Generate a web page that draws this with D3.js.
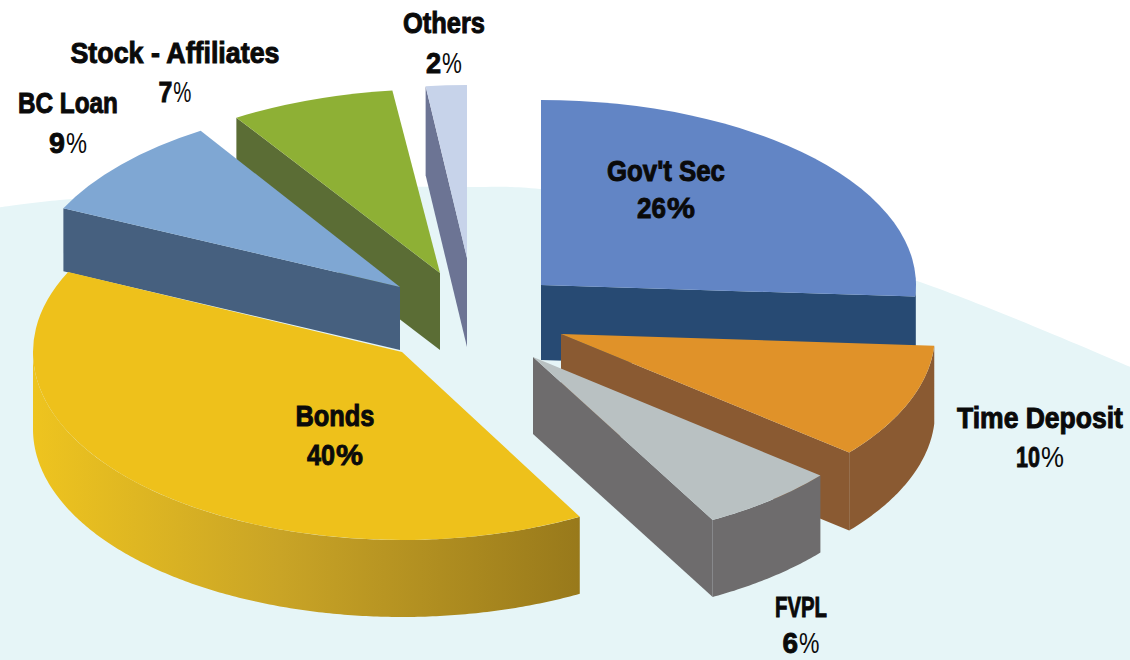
<!DOCTYPE html>
<html>
<head>
<meta charset="utf-8">
<script src="https://cdn.jsdelivr.net/npm/d3@7"></script>
<style>
  html, body { margin: 0; padding: 0; background: #fff; }
  svg { display: block; }
  text { font-family: "Liberation Sans Narrow", "Liberation Sans", "DejaVu Sans Condensed", sans-serif; fill: #0a0a0a; }
</style>
</head>
<body>
<svg id="chart" width="1130" height="660"></svg>
<script>
// Portfolio mix, clockwise from twelve o'clock
const categories = ["Gov't Sec", "Time Deposit", "FVPL", "Bonds", "BC Loan", "Stock - Affiliates", "Others"];
const shares = [26, 10, 6, 40, 9, 7, 2];

// Top, side-wall colours for each wedge
const topColors = ["#6285c5", "#e09229", "#b9c1c2", "#eec11b", "#7fa7d3", "#8eb035", "#c7d3ea"];
const wallColors = ["#274a73", "#8a5a32", "#6e6c6d", "url(#bondsWall)", "#46607f", "#5b6d35", "#6c7494"];

// Exploded wedge placement: apex, ellipse radii, wall height
const apexX = [541, 561, 533, 402, 400, 440, 467];
const apexY = [285, 334, 357, 352, 287, 273, 258];
const radiusX = [375, 374, 373, 369, 372, 380, 330];
const radiusY = [185, 186, 186, 188, 185, 184, 173];
const wallDepth = [75, 78, 77, 77, 63, 77, 89];

// Back-to-front painting sequence
const paintOrder = [5, 6, 4, 0, 1, 2, 3];

// Label placement: centre x, baseline of name and of percentage, fitted widths
const labelX = [666, 1040, 801, 335, 68, 175, 444];
const nameY = [181, 428, 617, 426, 113, 63, 33];
const valueY = [218, 467, 653, 465, 153, 102, 73];
const nameWidth = [118, 166, 52, 79, 100, 209, 82];
const valueWidth = [58, 48, 37, 56, 38, 33, 36];
const lightPercent = [false, true, true, false, true, true, true];

// Pale backdrop outline, running across the top of the page
const backdropX = [-5, 60, 250, 470, 540, 720, 917, 1135];
const backdropY = [208, 200, 189, 187, 189, 226, 281, 369];

const svg = d3.select("#chart");
const defs = svg.append("defs");

const bondsGradient = defs.append("linearGradient")
  .attr("id", "bondsWall")
  .attr("gradientUnits", "userSpaceOnUse")
  .attr("x1", 33).attr("x2", 581).attr("y1", 0).attr("y2", 0);
bondsGradient.append("stop").attr("offset", "0").attr("stop-color", "#eec41f");
bondsGradient.append("stop").attr("offset", "0.45").attr("stop-color", "#c9a426");
bondsGradient.append("stop").attr("offset", "1").attr("stop-color", "#98791b");

// Backdrop: a broad curved band filling the page below its outline
const backdropLine = d3.line().curve(d3.curveCatmullRom.alpha(0.5));
const backdropPath = backdropLine(d3.zip(backdropX, backdropY)) + "L1135,665L-5,665Z";
svg.append("path").attr("d", backdropPath).attr("fill", "#e6f5f7");

const pie = d3.pie().sort(null).startAngle(0).endAngle(2 * Math.PI);
const wedges = pie(shares);

// Angle measured clockwise from twelve o'clock, mapped onto the flattened ellipse
const rim = (i, a) => [
  apexX[i] + radiusX[i] * Math.sin(a),
  apexY[i] - radiusY[i] * Math.cos(a)
];
const polygon = d3.line();

function drawWedge(i) {
  const w = wedges[i];
  const g = svg.append("g").attr("class", "wedge");
  const depth = wallDepth[i];

  // A cut face shows when its outward normal points toward the viewer
  const faceVisible = (angle, side) => Math.cos(angle + side * Math.PI / 2) < -1e-6;
  const cutFace = angle => {
    const p = rim(i, angle);
    const a = [apexX[i], apexY[i]];
    return polygon([a, p, [p[0], p[1] + depth], [a[0], a[1] + depth]]) + "Z";
  };
  if (faceVisible(w.startAngle, -1)) {
    g.append("path").attr("d", cutFace(w.startAngle)).attr("fill", wallColors[i]);
  }
  if (faceVisible(w.endAngle, 1)) {
    g.append("path").attr("d", cutFace(w.endAngle)).attr("fill", wallColors[i]);
  }

  // Outer wall: only the part of the rim on the near half of the ellipse
  const from = Math.max(w.startAngle, Math.PI / 2);
  const to = Math.min(w.endAngle, 3 * Math.PI / 2);
  if (to > from) {
    const angles = d3.range(from, to, 0.01).concat([to]);
    const upper = angles.map(a => rim(i, a));
    const lower = upper.map(p => [p[0], p[1] + depth]).reverse();
    g.append("path").attr("d", polygon(upper.concat(lower)) + "Z").attr("fill", wallColors[i]);
  }

  // Top surface: a circular arc squashed into the ellipse
  const arc = d3.arc().innerRadius(0).outerRadius(radiusX[i]);
  g.append("path")
    .attr("transform", `translate(${apexX[i]},${apexY[i]}) scale(1,${radiusY[i] / radiusX[i]})`)
    .attr("d", arc(w))
    .attr("fill", topColors[i]);
}

paintOrder.forEach(drawWedge);

// Places a text with its left edge at x, squeezed horizontally to the wanted width
function fitted(content, x, y, width, size, weight, strokeWidth) {
  const t = labels.append("text")
    .attr("font-size", size).attr("font-weight", weight)
    .attr("stroke", "#0a0a0a").attr("stroke-width", strokeWidth)
    .text(content);
  const natural = t.node().getComputedTextLength();
  t.attr("transform", `translate(${x},${y}) scale(${width / natural},1)`);
}

// Two-line labels: category name above its share; digits and percent sign set separately
const labels = svg.append("g").attr("class", "labels");
categories.forEach((name, i) => {
  fitted(name, labelX[i] - nameWidth[i] / 2, nameY[i], nameWidth[i], 30, 700, 1);

  const digits = String(shares[i]);
  const digitWidth = valueWidth[i] * (digits.length === 2 ? 0.5 : 0.42);
  const left = labelX[i] - valueWidth[i] / 2;
  fitted(digits, left, valueY[i], digitWidth, 29, 700, 0.9);
  fitted("%", left + digitWidth + 1, valueY[i], valueWidth[i] - digitWidth - 1, 29,
    lightPercent[i] ? 400 : 700, lightPercent[i] ? 0 : 0.8);
});
</script>
</body>
</html>
